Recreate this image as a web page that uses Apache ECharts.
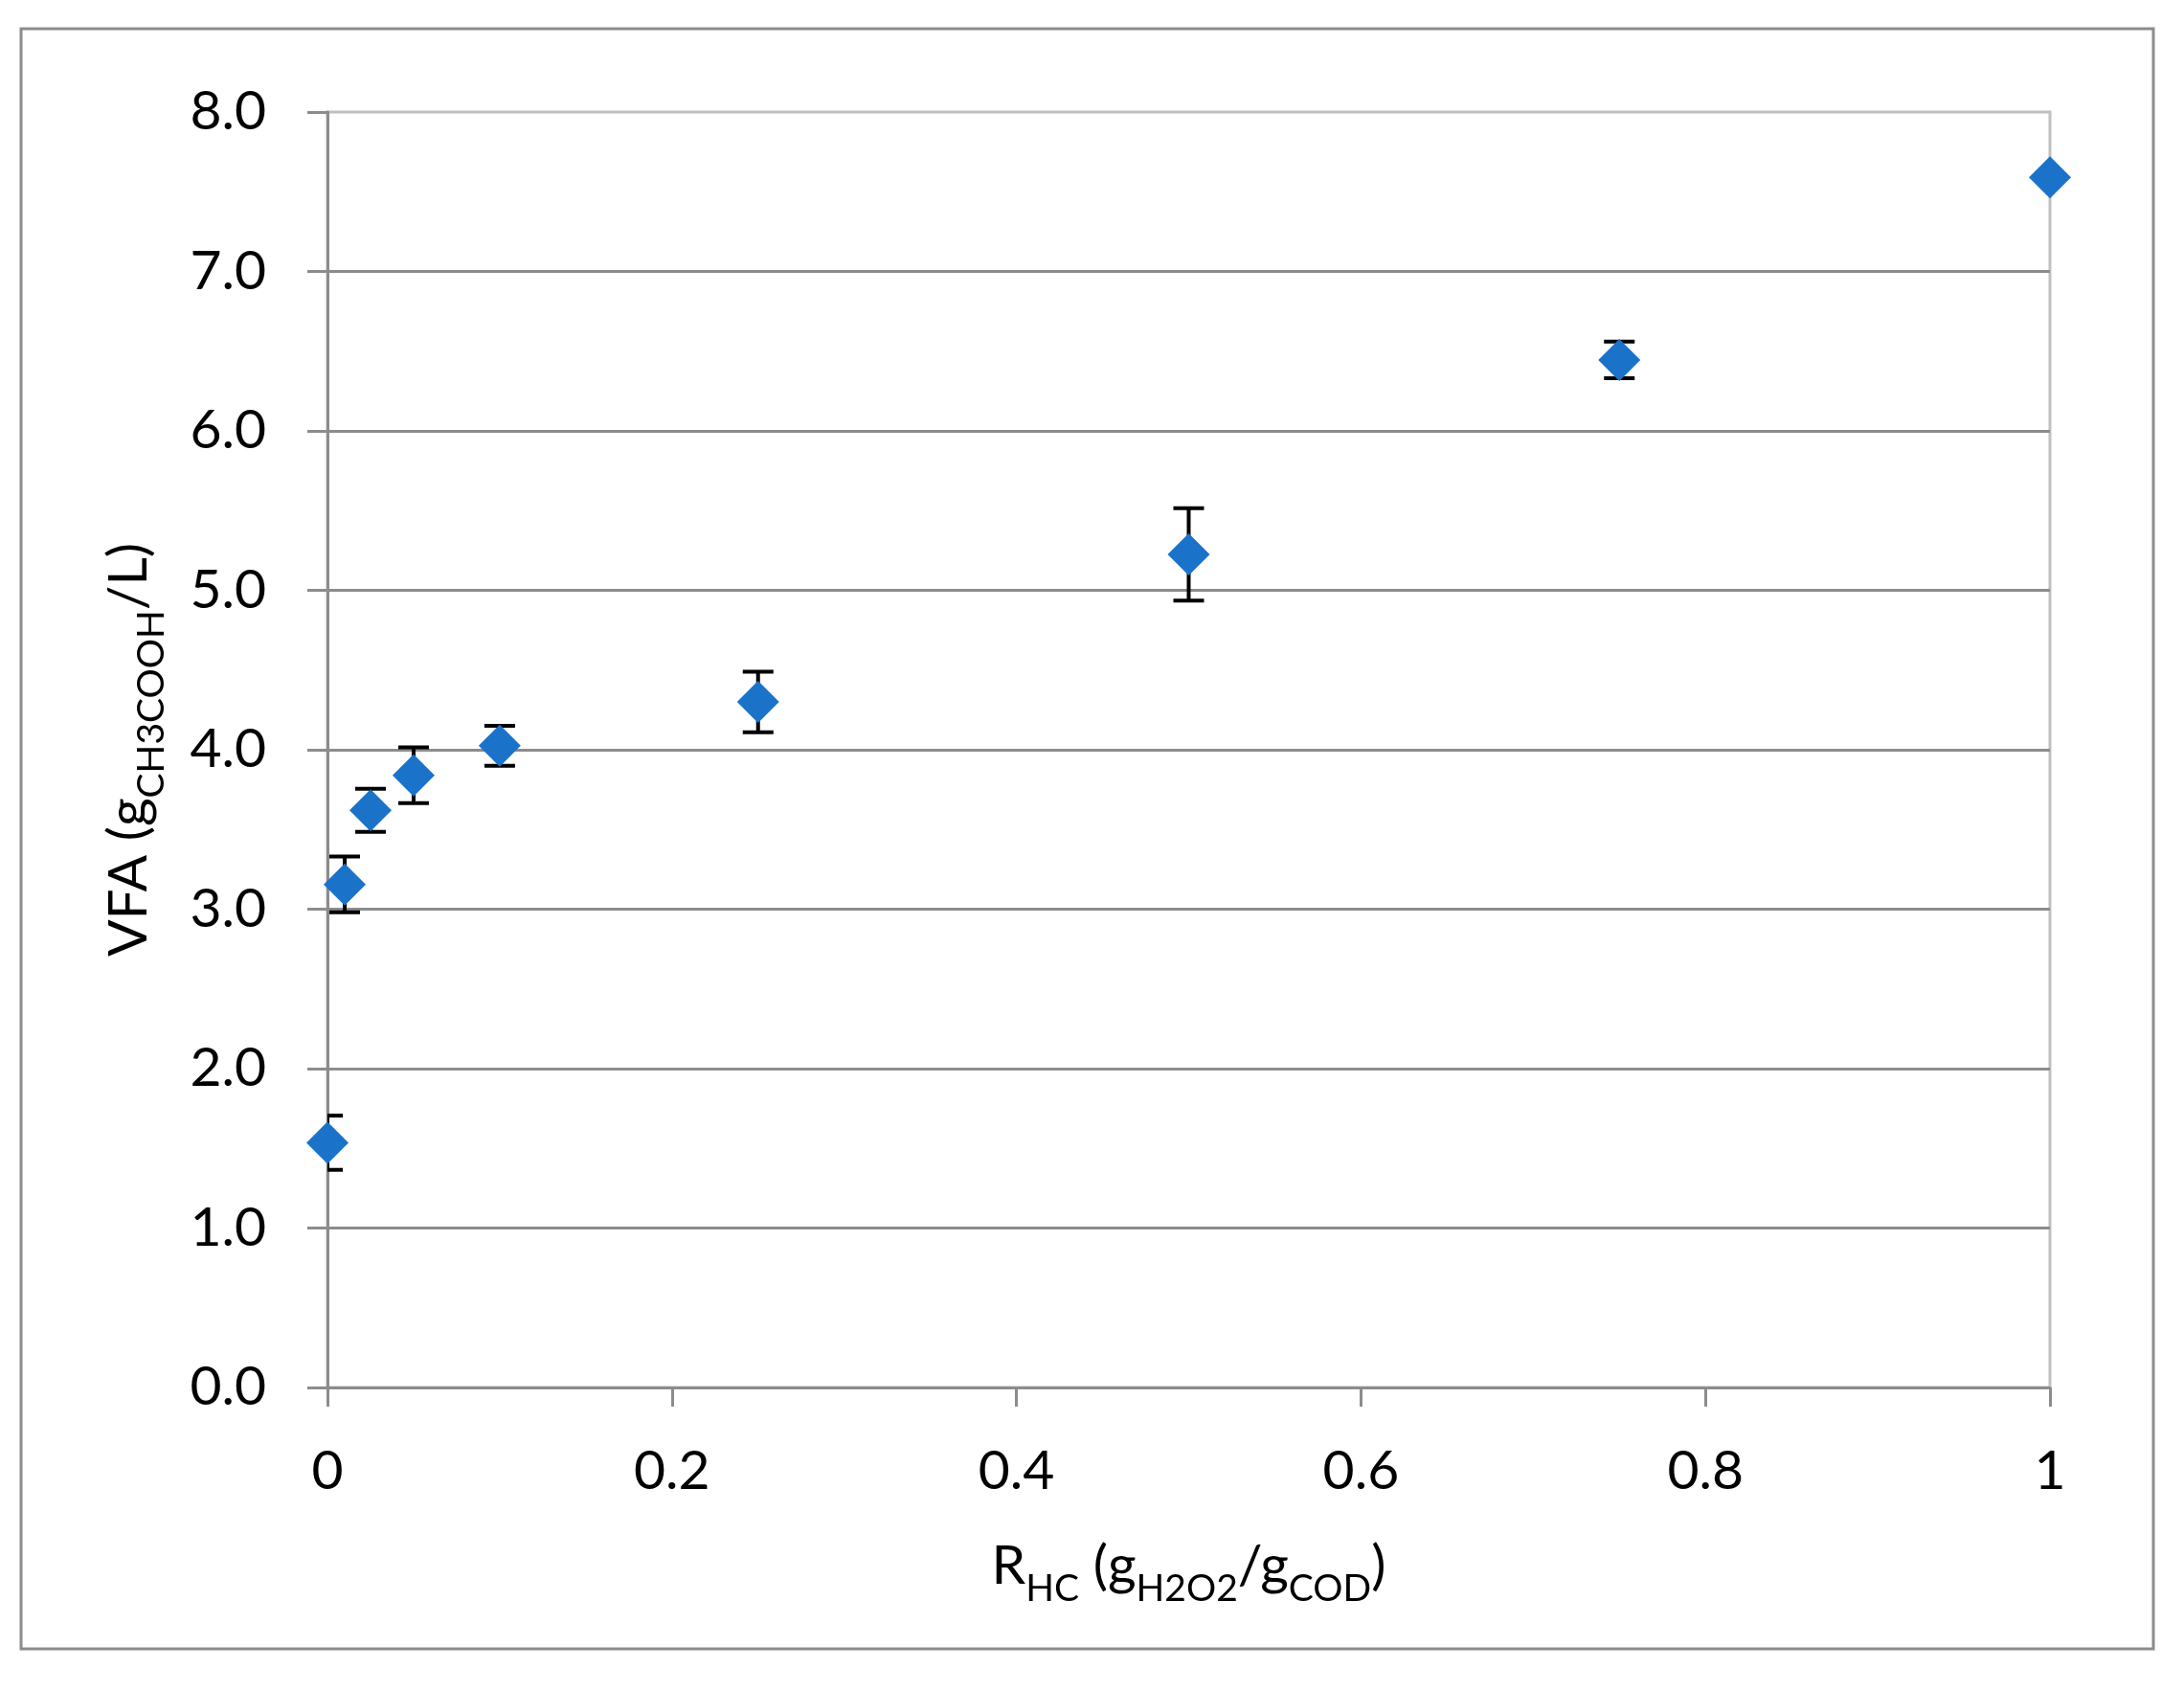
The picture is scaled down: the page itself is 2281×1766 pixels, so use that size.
<!DOCTYPE html>
<html>
<head>
<meta charset="utf-8">
<script src="https://cdn.jsdelivr.net/npm/echarts@6/dist/echarts.min.js"></script>
<style>
html,body{margin:0;padding:0;background:#fff;}
#chart{width:2281px;height:1766px;}
</style>
</head>
<body>
<div id="chart"></div>
<script>
// ---- data ----
const rhc = [0, 0.01, 0.025, 0.05, 0.1, 0.25, 0.5, 0.75, 1];
const vfa = [1.535, 3.155, 3.62, 3.84, 4.025, 4.30, 5.225, 6.445, 7.59];
const vfaErr = [0.17, 0.175, 0.135, 0.175, 0.125, 0.19, 0.29, 0.115, 0];
const xTickLabels = ['0', '0.2', '0.4', '0.6', '0.8', '1'];
const xName = '{m|R}{s|HC}{m| (g}{s|H2O2}{m|/g}{s|COD}{m|)}';
const yName = '{m|VFA (g}{s|CH3COOH}{m|/L)}';

const points = rhc.map((x, i) => [x, vfa[i]]);
const errs = rhc.map((x, i) => [x, vfa[i] - vfaErr[i], vfa[i] + vfaErr[i]]);

const FONT = 'Lato';
const AX = '#8c8c8c';
const richName = {
  m: {fontFamily: FONT, fontSize: 57, lineHeight: 86, color: '#000', verticalAlign: 'middle'},
  s: {fontFamily: FONT, fontSize: 39, lineHeight: 39, color: '#000', verticalAlign: 'bottom'}
};

const chart = echarts.init(document.getElementById('chart'), null, {renderer: 'canvas'});
chart.setOption({
  animation: false,
  backgroundColor: '#fff',
  graphic: [{
    type: 'rect', z: 0, silent: true,
    shape: {x: 22, y: 30, width: 2227, height: 1692},
    style: {fill: null, stroke: AX, lineWidth: 3}
  }],
  grid: {
    left: 342, right: 140, top: 117, bottom: 317,
    show: true, borderColor: '#c0c0c0', borderWidth: 3, backgroundColor: 'transparent',
    containLabel: false, outerBoundsMode: 'none'
  },
  xAxis: {
    type: 'value', min: 0, max: 1, interval: 0.2,
    axisLine: {show: true, onZero: false, lineStyle: {color: AX, width: 3}},
    axisTick: {show: true, inside: false, length: 20, lineStyle: {color: AX, width: 3}},
    axisLabel: {
      margin: 59, fontFamily: FONT, fontSize: 57, color: '#000',
      formatter: (v) => { const i = Math.round(v / 0.2); return xTickLabels[i] !== undefined ? xTickLabels[i] : ''; }
    },
    splitLine: {show: false},
    name: xName, nameLocation: 'middle', nameGap: 144,
    nameTextStyle: {rich: richName}
  },
  yAxis: {
    type: 'value', min: 0, max: 8, interval: 1,
    axisLine: {show: true, onZero: false, lineStyle: {color: AX, width: 3}},
    axisTick: {show: true, inside: false, length: 21, lineStyle: {color: AX, width: 3}},
    axisLabel: {
      margin: 64, fontFamily: FONT, fontSize: 57, color: '#000',
      formatter: (v) => v.toFixed(1)
    },
    splitLine: {show: true, showMinLine: false, showMaxLine: false, lineStyle: {color: AX, width: 3}},
    name: yName, nameLocation: 'middle', nameGap: 164, nameRotate: 90,
    nameTextStyle: {rich: richName}
  },
  series: [
    {
      type: 'custom', z: 2, clip: true,
      data: errs,
      renderItem: (params, api) => {
        const x = api.value(0);
        const lo = api.coord([x, api.value(1)]);
        const hi = api.coord([x, api.value(2)]);
        const cs = params.coordSys;
        const left = cs.x, right = cs.x + cs.width;
        const hw = 16;
        const x1 = Math.max(lo[0] - hw, left), x2 = Math.min(lo[0] + hw, right);
        const st = {stroke: '#000', lineWidth: 4, fill: null};
        return {
          type: 'group',
          children: [
            {type: 'line', shape: {x1: lo[0], y1: lo[1], x2: hi[0], y2: hi[1]}, style: st},
            {type: 'line', shape: {x1: x1, y1: lo[1], x2: x2, y2: lo[1]}, style: st},
            {type: 'line', shape: {x1: x1, y1: hi[1], x2: x2, y2: hi[1]}, style: st}
          ]
        };
      }
    },
    {
      type: 'scatter', z: 3, clip: false,
      data: points,
      symbol: 'diamond', symbolSize: [44, 44],
      itemStyle: {color: '#1a73c9', opacity: 1}
    }
  ]
});
</script>
</body>
</html>
